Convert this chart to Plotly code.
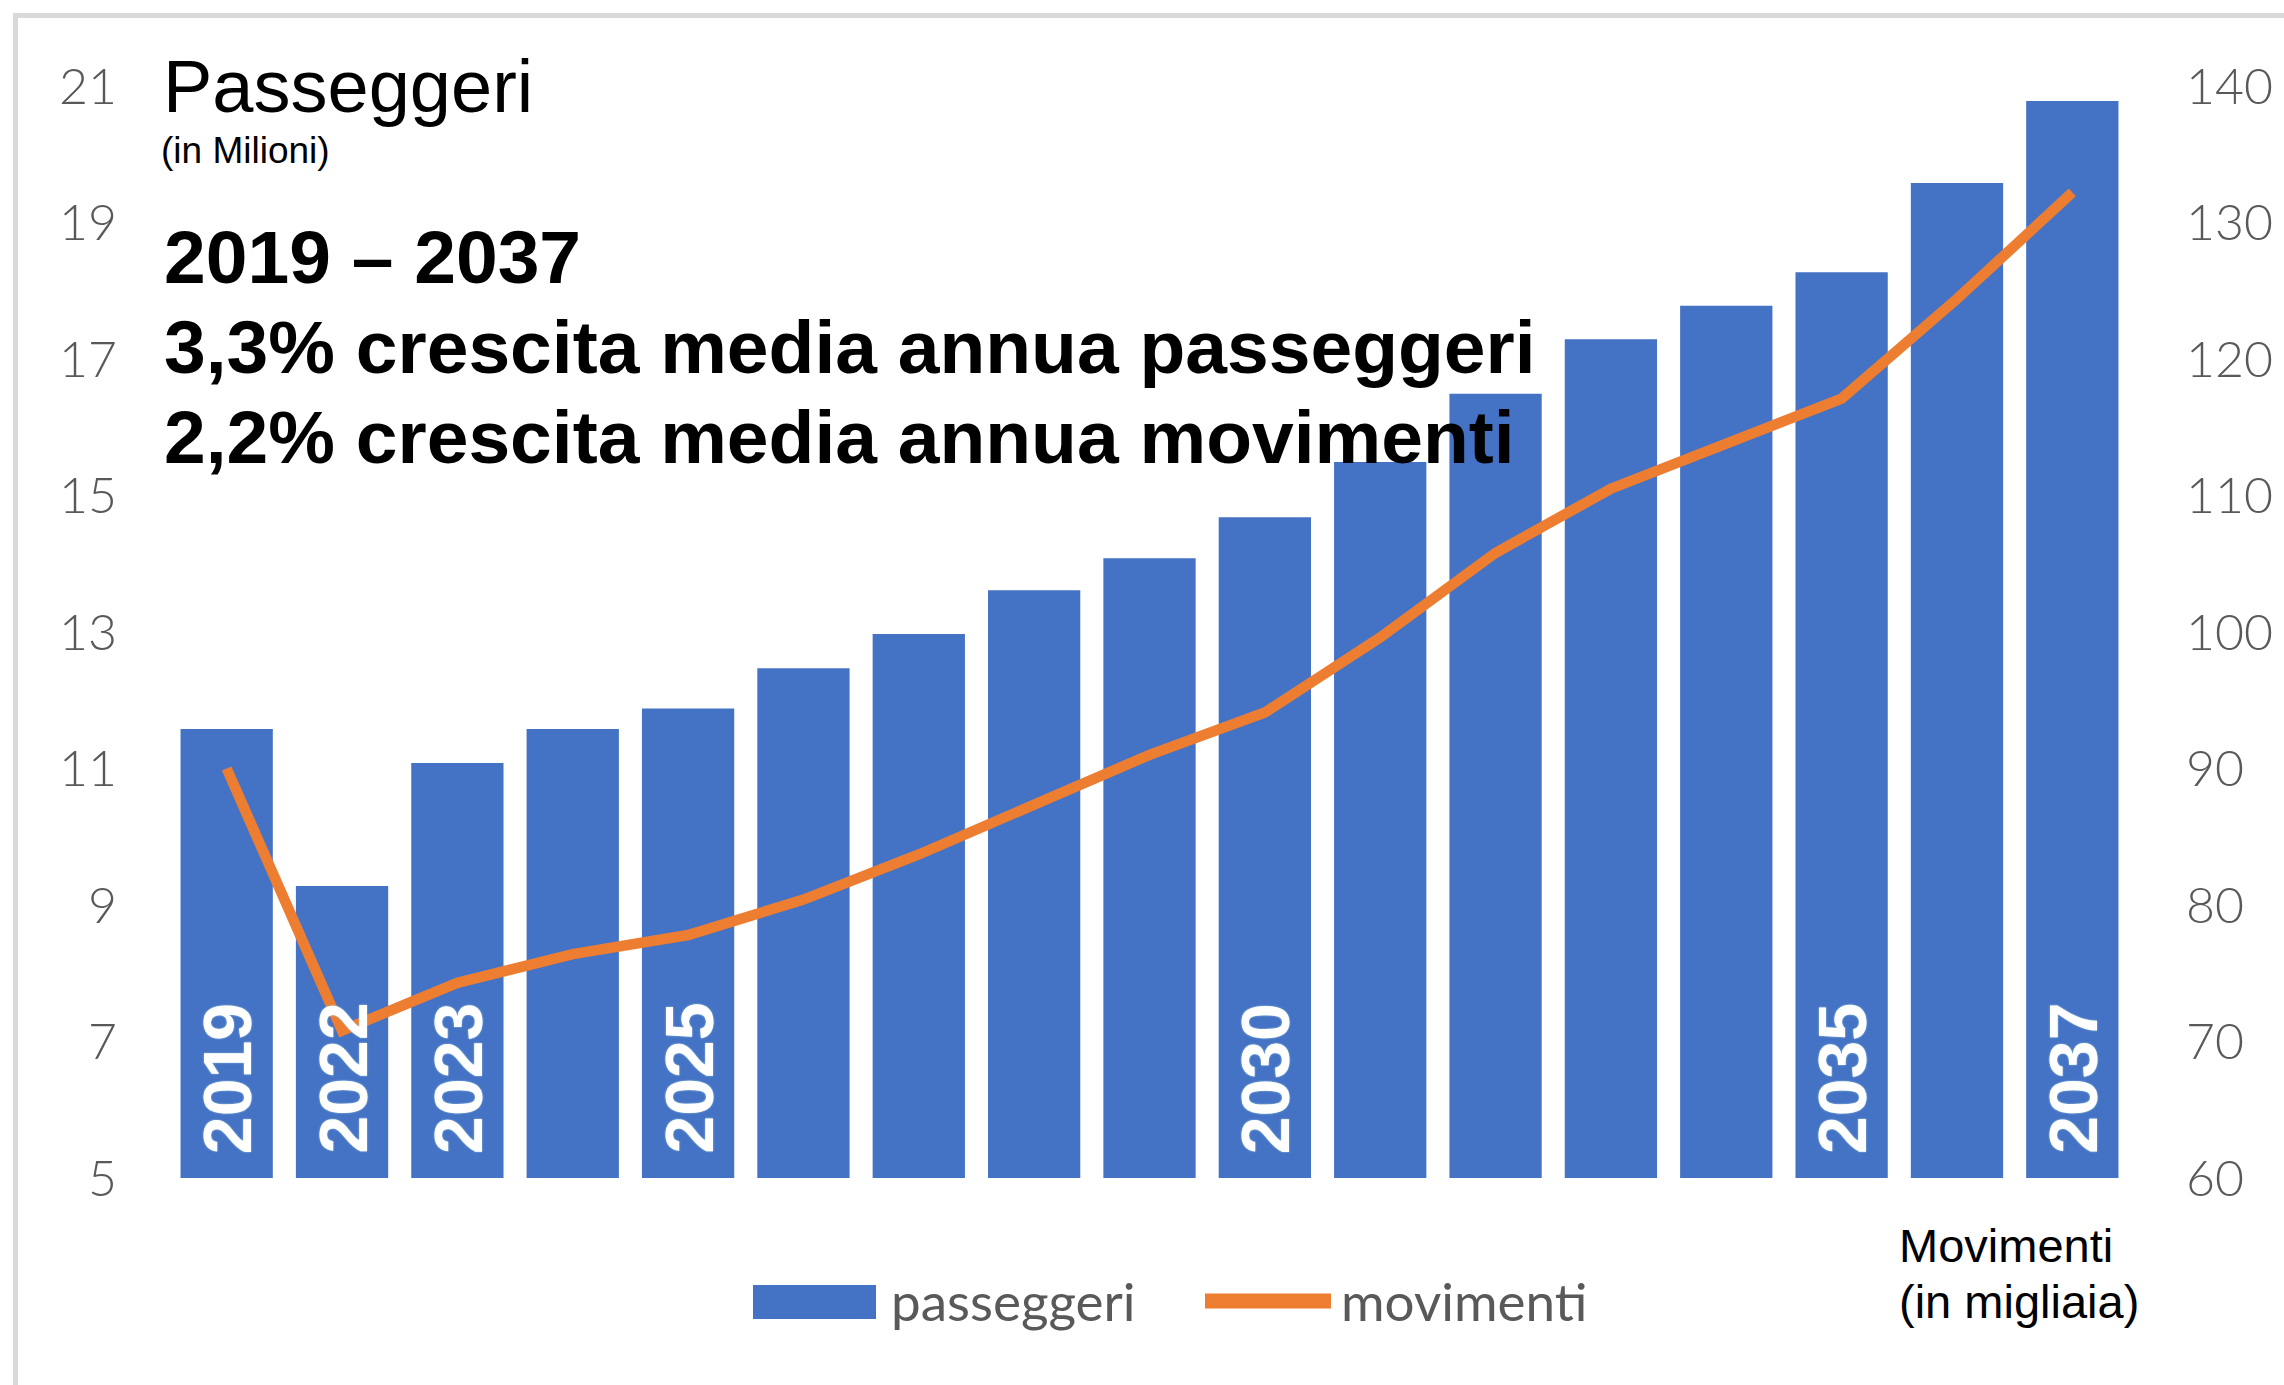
import plotly.graph_objects as go

# ---------------- data ----------------
years = ["2019", "2022", "2023", "2024", "2025", "2026", "2027", "2028", "2029",
         "2030", "2031", "2032", "2033", "2034", "2035", "2036", "2037"]
passeggeri = [11.58, 9.28, 11.08, 11.58, 11.88, 12.47, 12.97, 13.61, 14.08,
              14.68, 15.49, 16.49, 17.29, 17.78, 18.27, 19.58, 20.78]
movimenti = [90.0, 70.8, 74.3, 76.4, 77.8, 80.4, 83.7, 87.4, 91.0,
             94.1, 99.6, 105.8, 110.5, 113.8, 117.1, 124.4, 132.2]
year_labels = ["2019", "2022", "2023", "", "2025", "", "", "", "",
               "2030", "", "", "", "", "2035", "", "2037"]
left_ticks = [5, 7, 9, 11, 13, 15, 17, 19, 21]
right_ticks = [60, 70, 80, 90, 100, 110, 120, 130, 140]

title_main = "Passeggeri"
title_sub = "(in Milioni)"
headline = ["2019 – 2037",
            "3,3% crescita media annua passeggeri",
            "2,2% crescita media annua movimenti"]
right_title = ["Movimenti", "(in migliaia)"]
legend_names = ["passeggeri", "movimenti"]

BLUE = "#4472C4"
ORANGE = "#ED7D31"
GREY = "#595959"

W, H = 2284, 1385
PL, PR, PT, PB = 169, 2130, 86, 1178


def px(x):
    return (x - PL) / (PR - PL)


def py(y):
    return (PB - y) / (PB - PT)


fig = go.Figure()
fig.add_trace(go.Bar(x=years, y=passeggeri, name=legend_names[0],
                     marker=dict(color=BLUE, line=dict(width=0)),
                     yaxis="y", showlegend=False))
fig.add_trace(go.Scatter(x=years, y=movimenti, name=legend_names[1],
                         mode="lines", line=dict(color=ORANGE, width=10.5),
                         yaxis="y2", showlegend=False))

tick_font = dict(family="Lato", size=50, color=GREY, weight=300)

fig.update_layout(
    width=W, height=H,
    margin=dict(l=PL, r=W - PR, t=PT, b=H - PB, pad=0),
    paper_bgcolor="white", plot_bgcolor="white",
    bargap=0.2,
    xaxis=dict(type="category", range=[-0.5, len(years) - 0.5], showticklabels=False,
               showgrid=False, zeroline=False, showline=False, ticks=""),
    yaxis=dict(range=[5, 21], tickvals=left_ticks, showgrid=False,
               zeroline=False, showline=False, ticks="",
               tickfont=tick_font, ticklabelstandoff=51),
    yaxis2=dict(range=[60, 140], tickvals=right_ticks, overlaying="y",
                side="right", showgrid=False, zeroline=False, showline=False,
                ticks="", tickfont=tick_font, ticklabelstandoff=55),
)

ann = []
# year labels inside bars
for i, lab in enumerate(year_labels):
    if lab:
        ann.append(dict(x=i, y=5, xref="x", yref="y", text="<b>" + lab + "</b>",
                        showarrow=False, textangle=-90, xanchor="center",
                        yanchor="bottom", yshift=22,
                        font=dict(family="Liberation Sans", size=68, color="white",
                                  shadow="0px 0px 2px #a9d6e0")))


def text_ann(txt, x_px, base_px, size, color="black", bold=False, family="Liberation Sans"):
    if bold:
        txt = "<b>" + txt + "</b>"
    return dict(x=px(x_px), y=py(base_px - 0.35 * size), xref="paper", yref="paper",
                text=txt, showarrow=False, xanchor="left", yanchor="middle",
                font=dict(family=family, size=size, color=color), borderpad=0)


ann.append(text_ann(title_main, 162, 112, 74))
ann.append(text_ann(title_sub, 160, 163, 37))
for i, line in enumerate(headline):
    ann.append(text_ann(line, 163, 283 + 90 * i, 75, bold=True))
ann.append(text_ann(right_title[0], 1898, 1262, 47))
ann.append(text_ann(right_title[1], 1898, 1318, 47))
# custom legend texts
ann.append(text_ann(legend_names[0], 890, 1319, 53, color=GREY, family="Lato"))
ann.append(text_ann(legend_names[1], 1340, 1319, 53, color=GREY, family="Lato"))

shapes = [
    # legend symbols
    dict(type="rect", xref="paper", yref="paper", x0=px(753), x1=px(876),
         y0=py(1319), y1=py(1285), fillcolor=BLUE, line=dict(width=0)),
    dict(type="line", xref="paper", yref="paper", x0=px(1205), x1=px(1331),
         y0=py(1301), y1=py(1301), line=dict(color=ORANGE, width=15)),
    # frame (top & left)
    dict(type="line", xref="paper", yref="paper", x0=px(13), x1=px(2300),
         y0=py(15.5), y1=py(15.5), line=dict(color="#d9d9d9", width=5)),
    dict(type="line", xref="paper", yref="paper", x0=px(15.5), x1=px(15.5),
         y0=py(13), y1=py(1400), line=dict(color="#d9d9d9", width=5)),
]

fig.update_layout(annotations=ann, shapes=shapes)
fig.write_html("out.html")
